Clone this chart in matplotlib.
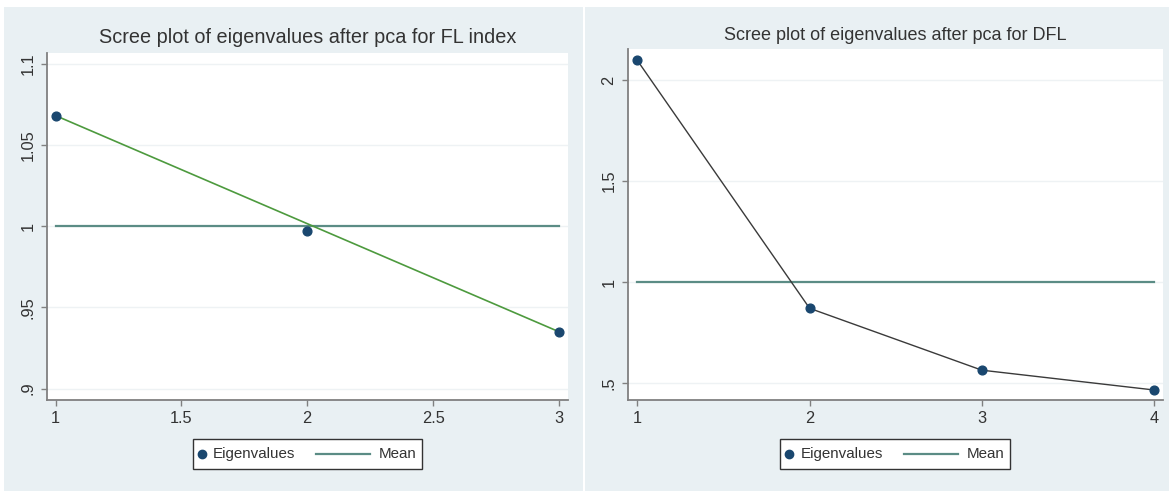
import numpy as np
import matplotlib
matplotlib.use("Agg")
import matplotlib.pyplot as plt
from matplotlib.lines import Line2D
from matplotlib.patches import Rectangle
from matplotlib.transforms import Affine2D

# Data
fl_components = [1, 2, 3]
fl_eigenvalues = [1.068, 0.997, 0.935]
dfl_components = [1, 2, 3, 4]
dfl_eigenvalues = [2.097, 0.871, 0.565, 0.467]

fl_xticks = [1, 1.5, 2, 2.5, 3]
fl_xlabels = ["1", "1.5", "2", "2.5", "3"]
fl_yticks = [0.9, 0.95, 1.0, 1.05, 1.1]
fl_ylabels = [".9", ".95", "1", "1.05", "1.1"]
dfl_xticks = [1, 2, 3, 4]
dfl_xlabels = ["1", "2", "3", "4"]
dfl_yticks = [0.5, 1.0, 1.5, 2.0]
dfl_ylabels = [".5", "1", "1.5", "2"]

title_fl = "Scree plot of eigenvalues after pca for FL index"
title_dfl = "Scree plot of eigenvalues after pca for DFL"

plt.rcParams["font.family"] = ["Liberation Sans", "DejaVu Sans"]

W, H = 1169, 491
BG = "#e9f0f3"
NAVY = "#1a476f"
TEAL = "#5b8c85"
TXT = "#333333"
AXC = "#808080"

fig = plt.figure(figsize=(W / 100, H / 100), dpi=100)
fig.patch.set_facecolor("white")
# pixel coordinates, origin at top-left
P = Affine2D().scale(1 / W, -1 / H).translate(0, 1) + fig.transFigure

# panel backgrounds
fig.patches.append(Rectangle((4, 6.5), 578.5, 485, transform=P, facecolor=BG, edgecolor="none", zorder=-10))
fig.patches.append(Rectangle((584.5, 6.5), 585, 485, transform=P, facecolor=BG, edgecolor="none", zorder=-10))


def make_axes(x0, x1, ytop, ybot):
    return fig.add_axes([x0 / W, (H - ybot) / H, (x1 - x0) / W, (ybot - ytop) / H])


def style(ax, xticks, xlabels, yticks, ylabels, xlim, ylim):
    ax.set_facecolor("white")
    ax.set_xlim(*xlim)
    ax.set_ylim(*ylim)
    ax.set_xticks(xticks)
    ax.set_xticklabels(xlabels)
    ax.set_yticks(yticks)
    ax.set_yticklabels(ylabels, rotation=90, va="center")
    for s in ["top", "right"]:
        ax.spines[s].set_visible(False)
    for s in ["left", "bottom"]:
        ax.spines[s].set_color(AXC)
        ax.spines[s].set_linewidth(1.3)
    ax.tick_params(length=4, width=1, color=AXC, labelcolor=TXT, labelsize=11.8, pad=4)
    ax.grid(axis="y", color="#eef2f4", linewidth=1)
    ax.set_axisbelow(True)


def legend(cx, cy):
    w, h = 229.6, 30
    L = cx - w / 2
    fig.patches.append(Rectangle((L, cy - h / 2), w, h, transform=P, facecolor="white",
                                 edgecolor="#333333", linewidth=1, zorder=5))
    fig.lines.append(Line2D([L + 9], [cy], transform=P, marker="o", markersize=6,
                            color=NAVY, linestyle="none", zorder=6))
    fig.text(L + 20.5, cy, "Eigenvalues", transform=P, ha="left", va="center",
             fontsize=10.9, color=TXT, zorder=6)
    fig.lines.append(Line2D([L + 123.5, L + 177.5], [cy, cy], transform=P,
                            color=TEAL, linewidth=1.6, zorder=6))
    fig.text(L + 186.5, cy, "Mean", transform=P, ha="left", va="center",
             fontsize=10.9, color=TXT, zorder=6)


# left panel: FL index
ax1 = make_axes(46.7, 568, 53, 400)
style(ax1, fl_xticks, fl_xlabels, fl_yticks, fl_ylabels, (0.965, 3.036), (0.893, 1.1065))
ax1.plot([fl_components[0], fl_components[-1]], [fl_eigenvalues[0], fl_eigenvalues[-1]],
         color="#4d9a3e", linewidth=1.2, zorder=3)
ax1.plot([fl_components[0], fl_components[-1]], [np.mean(fl_eigenvalues)] * 2,
         color=TEAL, linewidth=1.6, zorder=2)
ax1.plot(fl_components, fl_eigenvalues, "o", color=NAVY, markersize=6.3, zorder=4)
fig.text(307.4, 37.5, title_fl, transform=P, ha="center", va="center", fontsize=14.3, color=TXT)
legend(307.4, 454)

# right panel: DFL
ax2 = make_axes(627.7, 1162.7, 49.3, 400)
style(ax2, dfl_xticks, dfl_xlabels, dfl_yticks, dfl_ylabels, (0.944, 4.05), (0.4175, 2.152))
ax2.plot(dfl_components, dfl_eigenvalues, color="#3a3a3a", linewidth=1.0, zorder=3)
ax2.plot([dfl_components[0], dfl_components[-1]], [np.mean(dfl_eigenvalues)] * 2,
         color=TEAL, linewidth=1.6, zorder=2)
ax2.plot(dfl_components, dfl_eigenvalues, "o", color=NAVY, markersize=6.3, zorder=4)
fig.text(895.2, 35.5, title_dfl, transform=P, ha="center", va="center", fontsize=13, color=TXT)
legend(895.2, 454)

fig.savefig("out.png", dpi=100, facecolor=fig.get_facecolor())
